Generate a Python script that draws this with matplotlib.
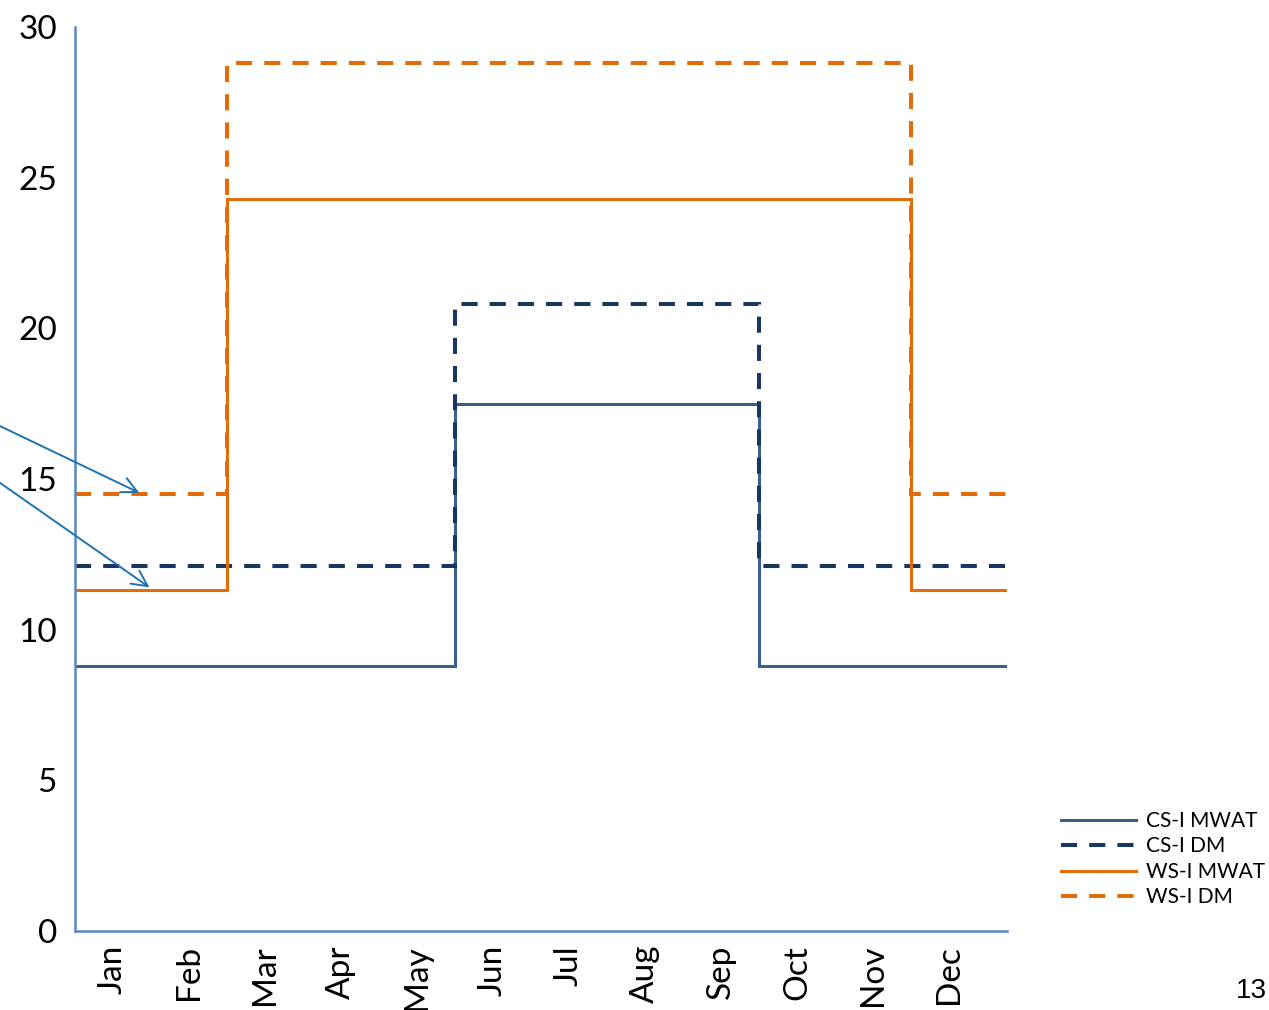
import numpy as np
import matplotlib.pyplot as plt
from matplotlib.lines import Line2D

months = ["Jan", "Feb", "Mar", "Apr", "May", "Jun",
          "Jul", "Aug", "Sep", "Oct", "Nov", "Dec"]

# monthly temperature criteria (deg C)
cs_mwat = [8.8, 8.8, 8.8, 8.8, 8.8, 17.5, 17.5, 17.5, 17.5, 8.8, 8.8, 8.8]
cs_dm = [12.1, 12.1, 12.1, 12.1, 12.1, 20.8, 20.8, 20.8, 20.8, 12.1, 12.1, 12.1]
ws_mwat = [11.3, 11.3, 24.3, 24.3, 24.3, 24.3, 24.3, 24.3, 24.3, 24.3, 24.3, 11.3]
ws_dm = [14.5, 14.5, 28.8, 28.8, 28.8, 28.8, 28.8, 28.8, 28.8, 28.8, 28.8, 14.5]

# month boundaries, last step runs a little into the next year
x_end = 12.26
edges = np.append(np.arange(12), x_end)

plt.rcParams['font.family'] = ['Lato', 'DejaVu Sans']

fig = plt.figure(figsize=(12.69, 10.10), dpi=100)
ax = fig.add_axes([0.0591, 0.0782, 0.7344, 0.8951])

navy = "#3A5F8E"
dark_navy = "#17375E"
orange = "#E36C09"
dash = (0, (4, 3))

ax.stairs(cs_mwat, edges, baseline=None, color=navy, lw=2.2)
ax.stairs(cs_dm, edges, baseline=None, color=dark_navy, lw=2.9, linestyle=dash)
ax.stairs(ws_mwat, edges, baseline=None, color=orange, lw=2.2)
ax.stairs(ws_dm, edges, baseline=None, color=orange, lw=2.9, linestyle=dash)

ax.set_xlim(0, x_end)
ax.set_ylim(0, 30)
ax.set_yticks(np.arange(0, 31, 5))
ax.set_xticks(np.arange(12) + 0.5)
ax.set_xticklabels(months, rotation=90)
ax.tick_params(axis='both', length=0, labelsize=24)
ax.tick_params(axis='y', pad=13)
ax.tick_params(axis='x', pad=10)

for s in ["top", "right"]:
    ax.spines[s].set_visible(False)
for s in ["left", "bottom"]:
    ax.spines[s].set_color("#5B87C0")
    ax.spines[s].set_linewidth(1.8)

# pointer arrows coming in from the left edge
arrow_kw = dict(arrowstyle="->", color="#1F72B0", lw=1.4, mutation_scale=28)
ax.annotate("", xy=(0.88, 14.5), xycoords="data",
            xytext=(-0.01, 1 - 420 / 1010), textcoords="figure fraction",
            arrowprops=arrow_kw, annotation_clip=False)
ax.annotate("", xy=(1.01, 11.35), xycoords="data",
            xytext=(-0.01, 1 - 474 / 1010), textcoords="figure fraction",
            arrowprops=arrow_kw, annotation_clip=False)

handles = [
    Line2D([], [], color=navy, lw=2.2),
    Line2D([], [], color=dark_navy, lw=2.9, linestyle=dash),
    Line2D([], [], color=orange, lw=2.2),
    Line2D([], [], color=orange, lw=2.9, linestyle=dash),
]
fig.legend(handles, ["CS-I MWAT", "CS-I DM", "WS-I MWAT", "WS-I DM"],
           loc="upper left", bbox_to_anchor=(0.836, 1 - 811 / 1010),
           frameon=False, fontsize=15, handlelength=3.6, handletextpad=0.5,
           labelspacing=0.26, borderaxespad=0, borderpad=0)

fig.text(0.998, 1 - 991 / 1010, "13", ha="right", va="center",
         fontsize=20, family="Liberation Sans")

fig.savefig("out.png", dpi=100)
